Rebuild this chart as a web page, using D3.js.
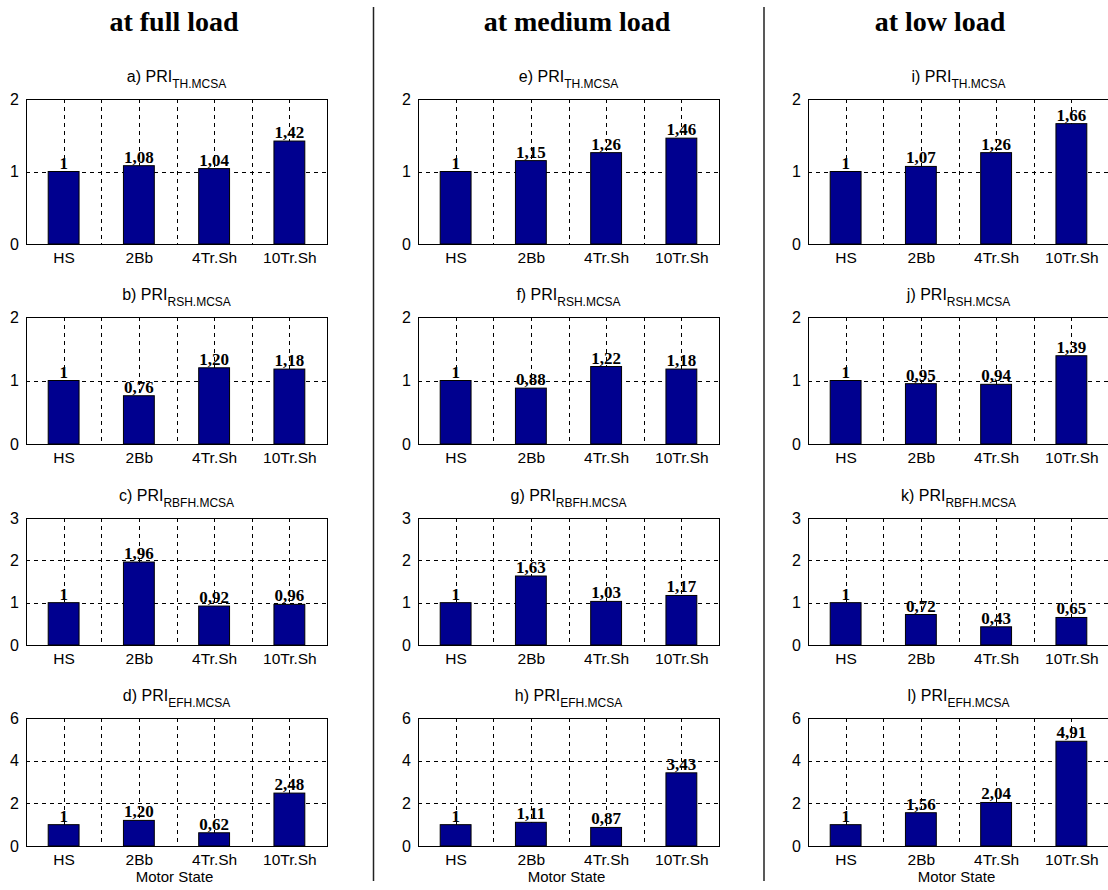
<!DOCTYPE html>
<html>
<head>
<meta charset="utf-8">
<script src="https://cdn.jsdelivr.net/npm/d3@7"></script>
<style>
  html, body { margin: 0; padding: 0; background: #fff; }
  svg { display: block; }
</style>
</head>
<body>
<svg id="chart" width="1108" height="890"></svg>
<script>
// ---------------- DATA ----------------
const categories = ["HS", "2Bb", "4Tr.Sh", "10Tr.Sh"];
const loadTitles = ["at full load", "at medium load", "at low load"];
const panelLetters = [["a", "b", "c", "d"], ["e", "f", "g", "h"], ["i", "j", "k", "l"]];
const indexSubscripts = ["TH.MCSA", "RSH.MCSA", "RBFH.MCSA", "EFH.MCSA"];
const yMaxByRow = [2, 2, 3, 6];
const yTicksByRow = [[0, 1, 2], [0, 1, 2], [0, 1, 2, 3], [0, 2, 4, 6]];

const fullLoad = [
  [1, 1.08, 1.04, 1.42],
  [1, 0.76, 1.20, 1.18],
  [1, 1.96, 0.92, 0.96],
  [1, 1.20, 0.62, 2.48]
];
const mediumLoad = [
  [1, 1.15, 1.26, 1.46],
  [1, 0.88, 1.22, 1.18],
  [1, 1.63, 1.03, 1.17],
  [1, 1.11, 0.87, 3.43]
];
const lowLoad = [
  [1, 1.07, 1.26, 1.66],
  [1, 0.95, 0.94, 1.39],
  [1, 0.72, 0.43, 0.65],
  [1, 1.56, 2.04, 4.91]
];
const loadValues = [fullLoad, mediumLoad, lowLoad];
const xLabelText = "Motor State";

// ---------------- LAYOUT ----------------
const colLeft = [26, 418, 808];
const panelW = 301;
const rowTop = [99, 317, 518, 718];
const rowH = [145, 127, 127, 128];
const titleCenters = [174, 577, 940];
const separatorsX = [373.5, 764];
const barColor = "#00008f";
const sansFont = "'Liberation Sans', Arial, sans-serif";
const serifFont = "'Liberation Serif', 'Times New Roman', serif";

const svg = d3.select("#chart");

// separators
svg.selectAll("line.sep").data(separatorsX).enter().append("line")
  .attr("class", "sep")
  .attr("x1", d => d).attr("x2", d => d)
  .attr("y1", 7).attr("y2", 881)
  .attr("stroke", "#222").attr("stroke-width", 1.5);

// column titles
svg.selectAll("text.coltitle").data(loadTitles).enter().append("text")
  .attr("class", "coltitle")
  .attr("x", (d, i) => titleCenters[i])
  .attr("y", 31)
  .attr("text-anchor", "middle")
  .attr("font-family", serifFont)
  .attr("font-weight", "bold")
  .attr("font-size", 28)
  .text(d => d);

const fmt = v => (v === 1 ? "1" : v.toFixed(2).replace(".", ","));

loadValues.forEach((rows, c) => {
  rows.forEach((vals, r) => {
    const left = colLeft[c], top = rowTop[r], h = rowH[r];
    const g = svg.append("g").attr("transform", `translate(${left},${top})`);

    const x = d3.scaleLinear().domain([0.5, 4.5]).range([0, panelW]);
    const y = d3.scaleLinear().domain([0, yMaxByRow[r]]).range([h, 0]);

    // subplot title
    const t = g.append("text")
      .attr("x", panelW / 2)
      .attr("y", -17)
      .attr("text-anchor", "middle")
      .attr("font-family", sansFont)
      .attr("font-size", 16);
    t.append("tspan").text(panelLetters[c][r] + ") PRI");
    t.append("tspan").attr("font-size", 12).attr("dy", 6).text(indexSubscripts[r]);

    // grid - horizontal
    const yt = yTicksByRow[r];
    g.selectAll("line.hg").data(yt.slice(1, -1)).enter().append("line")
      .attr("x1", 0).attr("x2", panelW)
      .attr("y1", d => Math.round(y(d)) + 0.5).attr("y2", d => Math.round(y(d)) + 0.5)
      .attr("stroke", "#000").attr("stroke-width", 1)
      .attr("stroke-dasharray", "4,4");
    // grid - vertical (at categories and midpoints)
    const vg = [1, 1.5, 2, 2.5, 3, 3.5, 4];
    g.selectAll("line.vg").data(vg).enter().append("line")
      .attr("x1", d => Math.round(x(d)) + 0.5).attr("x2", d => Math.round(x(d)) + 0.5)
      .attr("y1", 0).attr("y2", h)
      .attr("stroke", "#000").attr("stroke-width", 1)
      .attr("stroke-dasharray", "4,4");

    // bars
    const bw = 0.41;
    g.selectAll("rect.bar").data(vals).enter().append("rect")
      .attr("x", (d, i) => x(i + 1 - bw / 2))
      .attr("width", x(1 + bw) - x(1))
      .attr("y", d => y(d))
      .attr("height", d => h - y(d))
      .attr("fill", barColor)
      .attr("stroke", "#000")
      .attr("stroke-width", 1);

    // value labels
    g.selectAll("text.val").data(vals).enter().append("text")
      .attr("x", (d, i) => x(i + 1))
      .attr("y", d => y(d) - 3)
      .attr("text-anchor", "middle")
      .attr("font-family", serifFont)
      .attr("font-weight", "bold")
      .attr("font-size", 17)
      .text(d => fmt(d));

    // frame
    g.append("rect")
      .attr("x", 0.5).attr("y", 0.5).attr("width", panelW).attr("height", h)
      .attr("fill", "none").attr("stroke", "#000").attr("stroke-width", 1);

    // y axis
    const ya = g.append("g").call(
      d3.axisLeft(y).tickValues(yt).tickSize(0).tickPadding(7).tickFormat(d3.format("d"))
    );
    ya.select(".domain").remove();
    ya.selectAll("text").attr("font-family", sansFont).attr("font-size", 16).attr("fill", "#000");

    // x axis
    const xa = g.append("g").attr("transform", `translate(0,${h})`).call(
      d3.axisBottom(x).tickValues([1, 2, 3, 4]).tickSize(0).tickPadding(8)
        .tickFormat(d => categories[d - 1])
    );
    xa.select(".domain").remove();
    xa.selectAll("text").attr("font-family", sansFont).attr("font-size", 15.5).attr("fill", "#000");

    if (r === 3) {
      g.append("text")
        .attr("x", panelW / 2 - 2)
        .attr("y", h + 36)
        .attr("text-anchor", "middle")
        .attr("font-family", sansFont)
        .attr("font-size", 15)
        .text(xLabelText);
    }
  });
});
</script>
</body>
</html>
